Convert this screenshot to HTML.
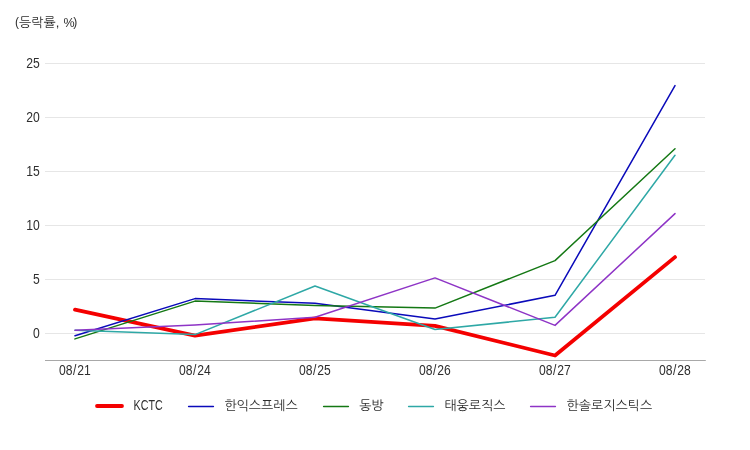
<!DOCTYPE html>
<html lang="ko"><head><meta charset="utf-8"><title>등락률 차트</title>
<style>
html,body{margin:0;padding:0;background:#fff;}
body{width:750px;height:450px;overflow:hidden;}
svg{display:block;}
text{font-family:"Liberation Sans","NanumGothic","Noto Sans CJK KR",sans-serif;fill:#2e2e2e;}
</style></head><body>
<svg width="750" height="450" viewBox="0 0 750 450">
<rect width="750" height="450" fill="#fff"/>
<path d="M45 63.5H705" stroke="#e6e6e6" stroke-width="1" fill="none"/>
<path d="M45 117.5H705" stroke="#e6e6e6" stroke-width="1" fill="none"/>
<path d="M45 171.5H705" stroke="#e6e6e6" stroke-width="1" fill="none"/>
<path d="M45 225.5H705" stroke="#e6e6e6" stroke-width="1" fill="none"/>
<path d="M45 279.5H705" stroke="#e6e6e6" stroke-width="1" fill="none"/>
<path d="M45 333.5H705" stroke="#e6e6e6" stroke-width="1" fill="none"/>
<path d="M45 360.5H705.8" stroke="#a8a8a8" stroke-width="1" fill="none"/>
<text transform="translate(39.7 68.1) scale(0.81 1)" font-size="15" text-anchor="end">25</text>
<text transform="translate(39.7 122.1) scale(0.81 1)" font-size="15" text-anchor="end">20</text>
<text transform="translate(39.7 176.1) scale(0.81 1)" font-size="15" text-anchor="end">15</text>
<text transform="translate(39.7 230.1) scale(0.81 1)" font-size="15" text-anchor="end">10</text>
<text transform="translate(39.7 284.1) scale(0.81 1)" font-size="15" text-anchor="end">5</text>
<text transform="translate(39.7 338.1) scale(0.81 1)" font-size="15" text-anchor="end">0</text>
<text transform="translate(59.0 374.7) scale(0.867 1)" font-size="14" text-anchor="start">08<tspan dx="0.7">/</tspan><tspan dx="0.8">21</tspan></text>
<text transform="translate(179.0 374.7) scale(0.867 1)" font-size="14" text-anchor="start">08<tspan dx="0.7">/</tspan><tspan dx="0.8">24</tspan></text>
<text transform="translate(299.0 374.7) scale(0.867 1)" font-size="14" text-anchor="start">08<tspan dx="0.7">/</tspan><tspan dx="0.8">25</tspan></text>
<text transform="translate(419.0 374.7) scale(0.867 1)" font-size="14" text-anchor="start">08<tspan dx="0.7">/</tspan><tspan dx="0.8">26</tspan></text>
<text transform="translate(539.0 374.7) scale(0.867 1)" font-size="14" text-anchor="start">08<tspan dx="0.7">/</tspan><tspan dx="0.8">27</tspan></text>
<text transform="translate(659.0 374.7) scale(0.867 1)" font-size="14" text-anchor="start">08<tspan dx="0.7">/</tspan><tspan dx="0.8">28</tspan></text>
<text x="15" y="27" font-size="13"><tspan font-size="12" dy="-0.8">(</tspan><tspan x="19" dy="0.8">등락률,</tspan> <tspan x="63.6" font-size="12.5">%</tspan><tspan x="73.2" font-size="12" dy="-0.8">)</tspan></text>
<path d="M75 309.7 L195 335.7 L315 318.4 L435 325.9 L555 355.5 L675 257.1" stroke="#f40000" stroke-width="3.8" fill="none" stroke-linejoin="round" stroke-linecap="round"/>
<path d="M75 335.7 L195 298.6 L315 303.3 L435 319.1 L555 295.3 L675 85.6" stroke="#0a0aba" stroke-width="1.5" fill="none" stroke-linejoin="round" stroke-linecap="round"/>
<path d="M75 338.9 L195 301.1 L315 305.4 L435 308.1 L555 260.6 L675 148.8" stroke="#147814" stroke-width="1.5" fill="none" stroke-linejoin="round" stroke-linecap="round"/>
<path d="M75 330.3 L195 334.6 L315 286.0 L435 329.5 L555 317.3 L675 155.3" stroke="#2ea8a6" stroke-width="1.5" fill="none" stroke-linejoin="round" stroke-linecap="round"/>
<path d="M75 330.3 L195 324.9 L315 317.3 L435 277.9 L555 325.4 L675 213.6" stroke="#8e34c6" stroke-width="1.5" fill="none" stroke-linejoin="round" stroke-linecap="round"/>
<path d="M97 406H122" stroke="#f40000" stroke-width="3.8" stroke-linecap="round" fill="none"/>
<text transform="translate(133.6 410.3) scale(0.765 1)" font-size="14" text-anchor="start">KCTC</text>
<path d="M188.6 406.5H213.4" stroke="#0a0aba" stroke-width="1.5" stroke-linecap="round" fill="none"/>
<text x="224.4" y="409.5" font-size="13" text-anchor="start">한익스프레스</text>
<path d="M323.6 406.5H348.4" stroke="#147814" stroke-width="1.5" stroke-linecap="round" fill="none"/>
<text x="359.2" y="409.5" font-size="13" text-anchor="start">동방</text>
<path d="M408.6 406.5H433.4" stroke="#2ea8a6" stroke-width="1.5" stroke-linecap="round" fill="none"/>
<text x="444.4" y="409.5" font-size="13" text-anchor="start">태웅로직스</text>
<path d="M530.6 406.5H555.4" stroke="#8e34c6" stroke-width="1.5" stroke-linecap="round" fill="none"/>
<text x="566.6" y="409.5" font-size="13" text-anchor="start">한솔로지스틱스</text>
</svg></body></html>
